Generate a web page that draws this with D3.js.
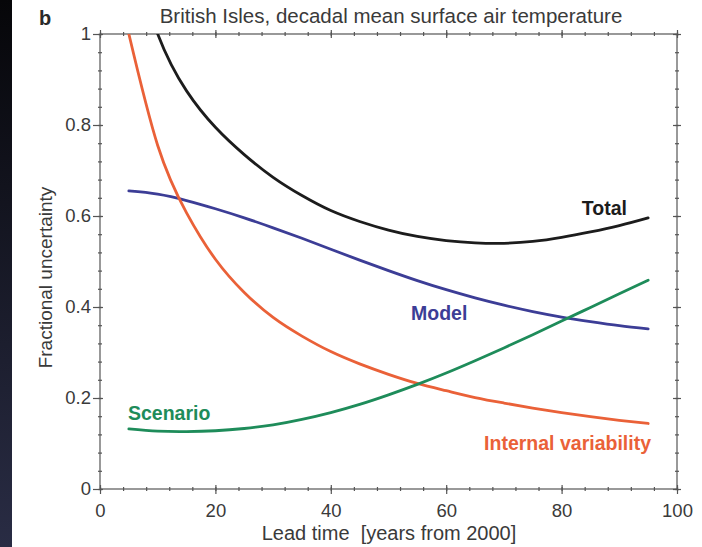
<!DOCTYPE html>
<html>
<head>
<meta charset="utf-8">
<script src="https://cdn.jsdelivr.net/npm/d3@7"></script>
<style>
  html, body { margin: 0; padding: 0; background: #ffffff; }
  svg { display: block; }
  text { font-family: "Liberation Sans", Arial, Helvetica, sans-serif; white-space: pre; }
</style>
</head>
<body>
<svg id="chart" width="702" height="547"></svg>
<script>
// ---- data ----
const leadTime = [5, 10, 15, 20, 25, 30, 35, 40, 45, 50, 55, 60, 65, 70, 75, 80, 85, 90, 95];
const total    = [1.2, 1.0, 0.875, 0.795, 0.735, 0.685, 0.645, 0.612, 0.588, 0.569, 0.555, 0.546, 0.541, 0.540, 0.544, 0.553, 0.565, 0.579, 0.596];
const internal = [1.0, 0.755, 0.607, 0.505, 0.432, 0.377, 0.336, 0.302, 0.275, 0.252, 0.232, 0.216, 0.201, 0.189, 0.178, 0.168, 0.159, 0.151, 0.144];
const model    = [0.655, 0.648, 0.634, 0.616, 0.596, 0.574, 0.551, 0.527, 0.503, 0.480, 0.458, 0.438, 0.420, 0.404, 0.390, 0.378, 0.368, 0.359, 0.352];
const scenario = [0.132, 0.127, 0.126, 0.128, 0.133, 0.141, 0.153, 0.168, 0.186, 0.207, 0.230, 0.255, 0.282, 0.310, 0.339, 0.369, 0.399, 0.429, 0.459];
const xTicks = [0, 20, 40, 60, 80, 100];
const yTicks = [0, 0.2, 0.4, 0.6, 0.8, 1];
const yTickLabels = ["0", "0.2", "0.4", "0.6", "0.8", "1"];
const seriesNames = ["Total", "Model", "Internal variability", "Scenario"];
const seriesColors = ["#1c1c1c", "#3c3d96", "#ea6138", "#1e8c5a"];

// ---- layout ----
const svg = d3.select("#chart");
const pL = 100, pR = 677, pT = 34, pB = 489;
const x = d3.scaleLinear().domain([0, 100]).range([pL, pR]);
const y = d3.scaleLinear().domain([0, 1]).range([pB, pT]);

// dark strip on the left
const defs = svg.append("defs");
const grad = defs.append("linearGradient").attr("id", "strip").attr("x1", 0).attr("y1", 0).attr("x2", 0).attr("y2", 1);
grad.append("stop").attr("offset", "0%").attr("stop-color", "#060609");
grad.append("stop").attr("offset", "100%").attr("stop-color", "#292c44");
svg.append("rect").attr("x", 0).attr("y", 0).attr("width", 12).attr("height", 547).attr("fill", "url(#strip)");

defs.append("clipPath").attr("id", "plotclip")
  .append("rect").attr("x", pL).attr("y", pT).attr("width", pR - pL).attr("height", pB - pT);

const axisColor = "#555";
const textColor = "#3a3a3a";

// frame
svg.append("rect").attr("x", pL).attr("y", pT).attr("width", pR - pL).attr("height", pB - pT)
  .attr("fill", "none").attr("stroke", axisColor).attr("stroke-width", 1.2);

const xMinor = d3.range(0, 100.01, 4);
const yMinor = d3.range(0, 1.001, 0.04);

function styleAxis(g) {
  g.select(".domain").remove();
  g.selectAll("line").attr("stroke", axisColor).attr("stroke-width", 1.2);
  g.selectAll("text").attr("fill", textColor).style("font-size", "18.5px");
}

// bottom axis
const gb = svg.append("g").attr("transform", `translate(0,${pB})`)
  .call(d3.axisBottom(x).tickValues(xTicks).tickFormat(d3.format("d")).tickSize(5).tickPadding(10));
gb.selectAll(".tick line").attr("y1", -4);
styleAxis(gb);
const gbm = svg.append("g").attr("transform", `translate(0,${pB})`)
  .call(d3.axisBottom(x).tickValues(xMinor).tickFormat("").tickSize(2));
gbm.selectAll(".tick line").attr("y1", -2);
styleAxis(gbm);

// top axis
const gt = svg.append("g").attr("transform", `translate(0,${pT})`)
  .call(d3.axisTop(x).tickValues(xTicks).tickFormat("").tickSize(4));
gt.selectAll(".tick line").attr("y1", 4);
styleAxis(gt);
const gtm = svg.append("g").attr("transform", `translate(0,${pT})`)
  .call(d3.axisTop(x).tickValues(xMinor).tickFormat("").tickSize(2));
gtm.selectAll(".tick line").attr("y1", 2);
styleAxis(gtm);

// left axis
const gl = svg.append("g").attr("transform", `translate(${pL},0)`)
  .call(d3.axisLeft(y).tickValues(yTicks).tickFormat((d, i) => yTickLabels[i]).tickSize(7).tickPadding(2));
gl.selectAll(".tick line").attr("x1", 3);
styleAxis(gl);
const glm = svg.append("g").attr("transform", `translate(${pL},0)`)
  .call(d3.axisLeft(y).tickValues(yMinor).tickFormat("").tickSize(2));
glm.selectAll(".tick line").attr("x1", 2);
styleAxis(glm);

// right axis
const gr = svg.append("g").attr("transform", `translate(${pR},0)`)
  .call(d3.axisRight(y).tickValues(yTicks).tickFormat("").tickSize(4));
gr.selectAll(".tick line").attr("x1", -4);
styleAxis(gr);
const grm = svg.append("g").attr("transform", `translate(${pR},0)`)
  .call(d3.axisRight(y).tickValues(yMinor).tickFormat("").tickSize(2));
grm.selectAll(".tick line").attr("x1", -2);
styleAxis(grm);

// lines
const seriesValues = [total, model, internal, scenario];
const line = d3.line().x((d) => x(d[0])).y((d) => y(d[1])).curve(d3.curveNatural);
const plot = svg.append("g").attr("clip-path", "url(#plotclip)");
seriesValues.forEach((vals, i) => {
  plot.append("path")
    .datum(leadTime.map((t, j) => [t, vals[j]]))
    .attr("d", line)
    .attr("fill", "none")
    .attr("stroke", seriesColors[i])
    .attr("stroke-width", 2.8)
    .attr("stroke-linecap", "round");
});

// series labels
const labelPos = [
  {x: 627, y: 215, anchor: "end"},
  {x: 411, y: 320, anchor: "start"},
  {x: 651, y: 450, anchor: "end"},
  {x: 128, y: 420, anchor: "start"}
];
seriesNames.forEach((name, i) => {
  svg.append("text")
    .attr("x", labelPos[i].x).attr("y", labelPos[i].y)
    .attr("text-anchor", labelPos[i].anchor)
    .attr("fill", seriesColors[i])
    .style("font-size", "19.5px").style("font-weight", "bold")
    .text(name);
});

// titles
svg.append("text").attr("x", 391).attr("y", 23).attr("text-anchor", "middle")
  .attr("fill", textColor).style("font-size", "20.5px")
  .text("British Isles, decadal mean surface air temperature");
svg.append("text").attr("x", 39).attr("y", 25)
  .attr("fill", "#2a2a2a").style("font-size", "20px").style("font-weight", "bold")
  .text("b");
svg.append("text").attr("x", 389).attr("y", 540).attr("text-anchor", "middle")
  .attr("fill", textColor).style("font-size", "20px")
  .text("Lead time\u00a0 [years from 2000]");
svg.append("text")
  .attr("transform", `translate(52,${(pT + pB) / 2 + 16}) rotate(-90)`)
  .attr("text-anchor", "middle")
  .attr("fill", textColor).style("font-size", "19px")
  .text("Fractional uncertainty");
</script>
</body>
</html>
